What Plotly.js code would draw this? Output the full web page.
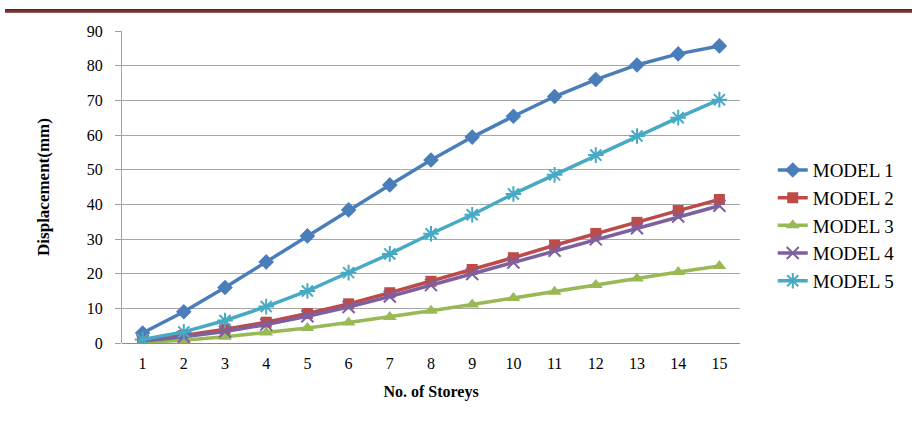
<!DOCTYPE html>
<html>
<head>
<meta charset="utf-8">
<script src="https://cdn.plot.ly/plotly-3.0.1.min.js"></script>
<style>
html,body{margin:0;padding:0;background:#fff;}
#chart{width:912px;height:428px;}
#bar{position:absolute;left:5px;top:9px;width:907px;height:4px;background:linear-gradient(#5e2020,#7a3333 60%,#9a7070);}
</style>
</head>
<body>
<div id="chart"></div>
<div id="bar"></div>
<script>
const storeys = [1,2,3,4,5,6,7,8,9,10,11,12,13,14,15];
const model1 = [2.9,9.0,16.0,23.4,30.9,38.4,45.6,52.8,59.4,65.4,71.1,76.0,80.2,83.4,85.7];
const model2 = [0.8,2.2,4.0,6.0,8.5,11.3,14.5,17.8,21.2,24.6,28.2,31.6,34.8,38.2,41.4];
const model3 = [0.2,0.8,1.8,3.0,4.3,5.9,7.5,9.3,11.1,13.0,14.8,16.7,18.6,20.5,22.2];
const model4 = [0.6,1.8,3.3,5.3,7.7,10.4,13.4,16.7,19.9,23.2,26.6,29.9,33.1,36.5,39.6];
const model5 = [1.0,3.2,6.5,10.5,15.0,20.3,25.7,31.5,37.0,43.0,48.5,54.2,59.7,65.0,70.2];
const names = ["MODEL 1","MODEL 2","MODEL 3","MODEL 4","MODEL 5"];
const yTicks = [0,10,20,30,40,50,60,70,80,90];

const colors = ["#4a7ebb","#be4b48","#98b954","#7d60a0","#46aac5"];
const symbols = ["diamond","square","triangle-up","x-thin-open","asterisk-open"];
const sizes = [12,11,12,12,13];
const series = [model1,model2,model3,model4,model5];

const traces = series.map((s,i)=>({
  x: storeys.map(String), y: s, name: names[i], type:'scatter', mode:'lines+markers',
  legendgroup: 'g'+i,
  line:{color:colors[i], width:3.5},
  marker:{symbol:symbols[i], size:sizes[i], color:colors[i], line:{color:colors[i], width:(i>=3?2:0)}}
}));

const layout = {
  width:912, height:428,
  margin:{l:122, r:167, t:31, b:85},
  paper_bgcolor:'#fff', plot_bgcolor:'#fff',
  font:{family:'"Liberation Serif","Times New Roman",serif', color:'#000', size:16},
  xaxis:{
    type:'category', range:[-0.5,14.5],
    title:{text:'<b>No. of Storeys</b>', font:{size:16}, standoff:14},
    showgrid:false, zeroline:false, showline:false,
    ticks:'', tickfont:{size:16}, ticklabelstandoff:9
  },
  yaxis:{
    range:[0,90], tickvals:yTicks, ticktext:yTicks.map(String),
    title:{text:'<b>Displacement(mm)</b>', font:{size:17}, standoff:32},
    showgrid:true, gridcolor:'#a6a6a6', gridwidth:1,
    zeroline:true, zerolinecolor:'#8c8c8c', zerolinewidth:1,
    showline:true, linecolor:'#a0a0a0', linewidth:1,
    ticks:'outside', ticklen:6, tickcolor:'#a0a0a0', tickfont:{size:16}, ticklabelstandoff:9
  },
  showlegend:true,
  legend:{x:1.053, y:0.615, xanchor:'left', yanchor:'top', font:{size:19},
    tracegroupgap:4, bgcolor:'rgba(0,0,0,0)', traceorder:'normal'}
};

Plotly.newPlot('chart', traces, layout, {displayModeBar:false, staticPlot:true});
</script>
</body>
</html>
